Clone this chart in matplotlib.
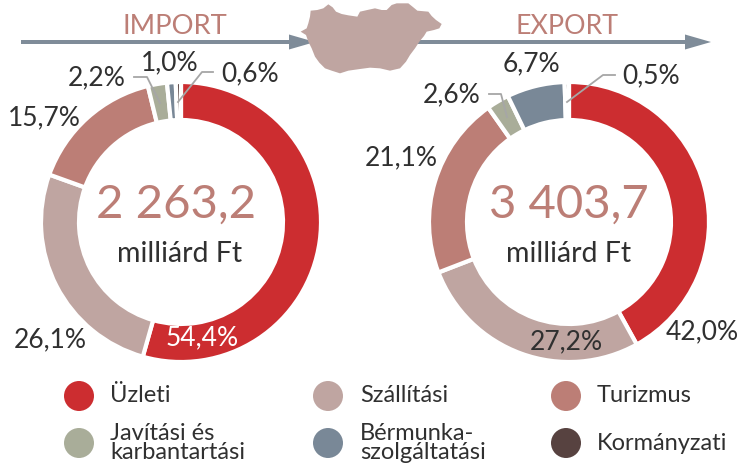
#!/usr/bin/env python
import matplotlib
matplotlib.use('Agg')
import matplotlib.pyplot as plt
from matplotlib.patches import Polygon, Ellipse, FancyArrow

plt.rcParams['font.family'] = ['Lato', 'DejaVu Sans']

categories = ['Üzleti', 'Szállítási', 'Turizmus', 'Javítási és\nkarbantartási', 'Bérmunka-\nszolgáltatási', 'Kormányzati']
colors = ['#CC2D30', '#BFA5A1', '#BC7E76', '#A9AD99', '#798897', '#574240']
import_values = [54.4, 26.1, 15.7, 2.2, 1.0, 0.6]
export_values = [42.0, 27.2, 21.1, 2.6, 6.7, 0.5]
import_total = '2 263,2'
export_total = '3 403,7'
unit = 'milliárd Ft'

H = 463
TEXT = '#303030'
ROSE = '#BC7E76'
GREY = '#7F8C99'
LEAD = '#A6A6A6'

def Y(y):
	return H - y

fig = plt.figure(figsize=(7.38, 4.63), dpi=100)
ax = fig.add_axes([0, 0, 1, 1])

def donut(values, cx):
	ax.pie(values, colors=colors, startangle=90, counterclock=False, radius=140, center=(cx, Y(222)),
		wedgeprops=dict(width=38, edgecolor='white', linewidth=3.0), frame=True)

donut(import_values, 181)
donut(export_values, 569)

ax.set_xlim(0, 738)
ax.set_ylim(0, H)
ax.set_aspect('equal')
ax.axis('off')

# arrows
for x0, x1 in [(21, 315), (416, 711)]:
	ax.add_patch(FancyArrow(x0, Y(42), x1 - x0, 0, width=4, head_width=15, head_length=26,
		length_includes_head=True, color=GREY, lw=0, zorder=2))

# map outline
map_outline = [(62, 95), (80, 85), (85, 70), (90, 50), (92, 32), (112, 30), (130, 25), (145, 13), (158, 22), (168, 35),
	(185, 42), (205, 46), (232, 50), (240, 35), (262, 30), (285, 25), (305, 30), (320, 30), (335, 15), (350, 10), (385, 10),
	(400, 22), (412, 32), (445, 35), (455, 48), (468, 60), (485, 72), (478, 85), (462, 90), (440, 95), (432, 108), (418, 125),
	(405, 145), (390, 165), (378, 185), (360, 205), (330, 212), (300, 205), (270, 203), (240, 207), (205, 212), (180, 220),
	(155, 212), (135, 205), (118, 188), (105, 170), (95, 145), (85, 125), (78, 105)]
ax.add_patch(Polygon([(280 + x / 3.0, Y(y / 3.0)) for x, y in map_outline], closed=True, color='#BFA5A1', lw=0, zorder=3))

ax.text(175, Y(27), 'IMPORT', color=ROSE, fontsize=19.7, ha='center', va='center')
ax.text(567, Y(27), 'EXPORT', color=ROSE, fontsize=19.3, ha='center', va='center')

# totals
ax.text(176, Y(205), import_total, color=ROSE, fontsize=34, ha='center', va='center')
ax.text(569, Y(205), export_total, color=ROSE, fontsize=34, ha='center', va='center')
ax.text(180, Y(254), unit, color=TEXT, fontsize=20.5, ha='center', va='center')
ax.text(569, Y(254), unit, color=TEXT, fontsize=20.5, ha='center', va='center')

# percent labels
import_pos = [(202, 338), (50, 340), (44, 118), (97, 78), (170, 63), (250, 74)]
export_pos = [(702, 332), (566, 342), (401, 158), (452, 95), (531, 64), (651, 76)]
for vals, pos in [(import_values, import_pos), (export_values, export_pos)]:
	for i in range(len(vals)):
		c = 'white' if vals[i] == 54.4 else TEXT
		ax.text(pos[i][0], Y(pos[i][1]), ('%.1f%%' % vals[i]).replace('.', ','), color=c, fontsize=19, ha='center', va='center')

# leader lines
leads = [[(134, 77), (147, 77), (160, 103)], [(213, 72), (202, 72), (178, 102)],
	[(489, 94), (501, 94), (507, 117)], [(615, 75), (603, 75), (567, 102)]]
for pts in leads:
	ax.plot([p[0] for p in pts], [Y(p[1]) for p in pts], color=LEAD, lw=1.3, zorder=5)

# legend
leg_x = [79, 328, 566]
leg_y = [396, 443]
text_x = [110, 360, 597]
for i in range(len(categories)):
	col = i % 3
	row = i // 3
	ax.add_patch(Ellipse((leg_x[col], Y(leg_y[row])), 30, 30, color=colors[i], lw=0))
	ax.text(text_x[col], Y(leg_y[row]), categories[i], color=TEXT, fontsize=17,
		ha='left', va='center', linespacing=0.92)

fig.savefig('out.png', dpi=100)
